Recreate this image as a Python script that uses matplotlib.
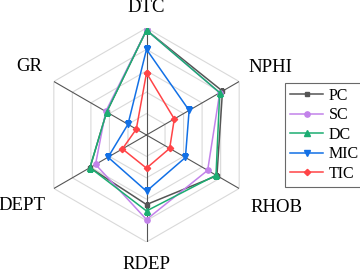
import numpy as np
import matplotlib
matplotlib.use("Agg")
import matplotlib.pyplot as plt

plt.rcParams['font.family'] = ['Liberation Serif', 'DejaVu Serif']

categories = ["DTC", "NPHI", "RHOB", "RDEP", "DEPT", "GR"]
series_names = ["PC", "SC", "DC", "MIC", "TIC"]
pc = [0.98, 0.82, 0.76, 0.65, 0.61, 0.43]
sc = [0.98, 0.79, 0.66, 0.79, 0.55, 0.44]
dc = [0.98, 0.79, 0.75, 0.71, 0.61, 0.43]
mic = [0.80, 0.46, 0.42, 0.525, 0.415, 0.20]
tic = [0.58, 0.30, 0.25, 0.31, 0.26, 0.11]
series = [pc, sc, dc, mic, tic]
colors = ["#555555", "#c282ea", "#1cad72", "#1270e6", "#ff4447"]
markers = ["s", "o", "^", "v", "D"]

# label placement (angle in degrees, radius) relative to axes
label_pos = [(90, 1.19), (28.5, 1.32), (-29.1, 1.385), (-89.8, 1.206), (209.5, 1.335), (149.5, 1.27)]

fig = plt.figure(figsize=(3.6, 2.71), dpi=100)
ax = fig.add_axes([39.5/360, 29/271, 214/360, 214/271], projection='polar')

n = len(categories)
angles = np.deg2rad(90 - 60 * np.arange(n))
closed = np.concatenate([angles, angles[:1]])

# grid hexagons
for r in [0.2, 0.4, 0.6, 0.8, 1.0]:
    ax.plot(closed, [r] * (n + 1), color="#d9d9d9", lw=0.8, zorder=1)
# spokes
for a in angles:
    ax.plot([a, a], [0, 1.0], color="#555555", lw=0.8, zorder=1)

for vals, name, c, m in zip(series, series_names, colors, markers):
    v = list(vals) + [vals[0]]
    ms = 3.2 if m in ("s", "D") else 3.8
    ax.plot(closed, v, color=c, lw=1.1, marker=m, ms=ms, label=name, zorder=3)

ax.set_ylim(0, 1.0)
ax.set_xticks([])
ax.set_yticks([])
ax.grid(False)
ax.spines['polar'].set_visible(False)
ax.patch.set_visible(False)

for cat, (deg, r) in zip(categories, label_pos):
    ax.text(np.deg2rad(deg), r, cat, ha='center', va='center', fontsize=13.5, clip_on=False)

leg = fig.legend(loc='upper left', bbox_to_anchor=(285/360, 1 - 83/271), frameon=True,
                 fancybox=False, edgecolor='#444444', fontsize=11.5, handlelength=2.1,
                 borderpad=0.3, labelspacing=0.22, handletextpad=0.35, borderaxespad=0)
leg.get_frame().set_linewidth(0.8)

fig.savefig("out.png", dpi=100)
